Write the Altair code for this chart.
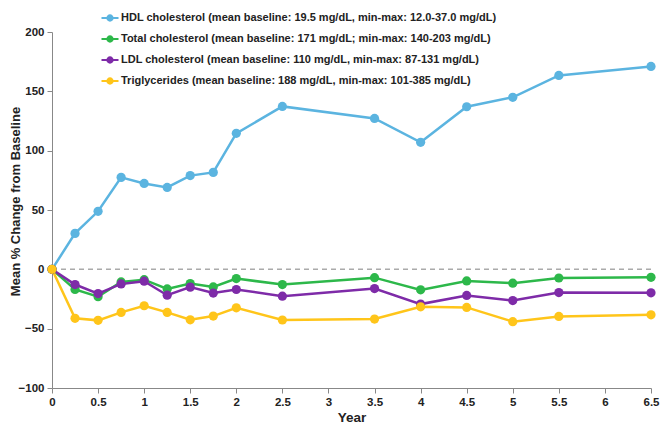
import altair as alt
import pandas as pd

years = [0, 0.25, 0.5, 0.75, 1, 1.25, 1.5, 1.75, 2, 2.5, 3.5, 4, 4.5, 5, 5.5, 6.5]
hdl = [0, 30.3, 48.9, 77.5, 72.4, 69, 79, 81.7, 114.6, 137.3, 127.2, 107, 137, 145, 163.4, 171]
total = [0, -17, -23, -10.6, -8.7, -16.5, -12, -14.8, -7.8, -12.8, -7, -17.3, -9.8, -11.7, -7.3, -6.7]
ldl = [0, -12.8, -20.4, -12.3, -10, -21.8, -15, -20, -17, -22.6, -16.2, -29.3, -22, -26.3, -19.6, -19.8]
trig = [0, -41.3, -43, -36.3, -30.7, -36.3, -42.5, -39.4, -32.4, -42.7, -41.9, -31.6, -32.1, -44.1, -39.7, -38.3]

series = [
    "HDL cholesterol (mean baseline: 19.5 mg/dL, min-max: 12.0-37.0 mg/dL)",
    "Total cholesterol (mean baseline: 171 mg/dL; min-max: 140-203 mg/dL)",
    "LDL cholesterol (mean baseline: 110 mg/dL, min-max: 87-131 mg/dL)",
    "Triglycerides (mean baseline: 188 mg/dL, min-max: 101-385 mg/dL)",
]
colors = ["#5BB4E0", "#2DB84A", "#7E2BA8", "#FFC51A"]
x_ticks = [0, 0.5, 1, 1.5, 2, 2.5, 3, 3.5, 4, 4.5, 5, 5.5, 6, 6.5]
y_ticks = [-100, -50, 0, 50, 100, 150, 200]

rows = []
for name, vals in zip(series, [hdl, total, ldl, trig]):
    for i, (yr, v) in enumerate(zip(years, vals)):
        rows.append({"Year": yr, "Value": v, "Series": name, "order": i})
df = pd.DataFrame(rows)

FONT = "Liberation Sans"

x = alt.X("Year:Q", scale=alt.Scale(domain=[0, 6.5], nice=False),
          axis=alt.Axis(values=x_ticks, title="Year", grid=False, labelFlush=False,
                        format="~g"))
y = alt.Y("Value:Q", scale=alt.Scale(domain=[-100, 200], nice=False),
          axis=alt.Axis(values=y_ticks, title="Mean % Change from Baseline", grid=False,
                        titleX=-30, titleY=169, titleBaseline="bottom"))
color = alt.Color("Series:N", scale=alt.Scale(domain=series, range=colors),
                  legend=alt.Legend(title=None, orient="none", legendX=48, legendY=-24,
                                    symbolType="M-1,0H1M0.3,0A0.3,0.3 0 1,1 -0.3,0A0.3,0.3 0 1,1 0.3,0Z",
                                    symbolSize=289, symbolStrokeWidth=2.2,
                                    labelFontSize=11, labelFont=FONT, labelFontWeight="bold",
                                    labelColor="#222222", rowPadding=4, labelOffset=1,
                                    labelLimit=600))

zero = alt.Chart(pd.DataFrame({"v": [0]})).mark_rule(
    color="#AAAAAA", strokeDash=[5, 4], strokeWidth=1.5
).encode(y=alt.Y("v:Q", scale=alt.Scale(domain=[-100, 200], nice=False)))

lines = alt.Chart(df).mark_line(strokeWidth=2.5).encode(
    x=x, y=y, color=color, order="order:Q")
points = alt.Chart(df).mark_circle(size=85, opacity=1).encode(
    x=x, y=y, color=alt.Color("Series:N", scale=alt.Scale(domain=series, range=colors), legend=None))

chart = alt.layer(zero, lines, points).properties(
    width=599, height=356,
    autosize=alt.AutoSizeParams(type="none"),
    padding={"left": 44, "top": 24, "right": 10, "bottom": 37},
).configure_view(stroke=None).configure_axis(
    domainColor="#888888", tickColor="#888888", domainWidth=1,
    labelFont=FONT, labelFontSize=11.5, labelFontWeight="bold", labelColor="#222222",
    titleFont=FONT, titleFontSize=13, titleFontWeight="bold", titleColor="#222222",
    tickSize=5, labelPadding=3,
).configure_axisX(titlePadding=3, titleFontSize=13.5)

chart.save("out.html", embed_options={"renderer": "svg", "actions": False})
